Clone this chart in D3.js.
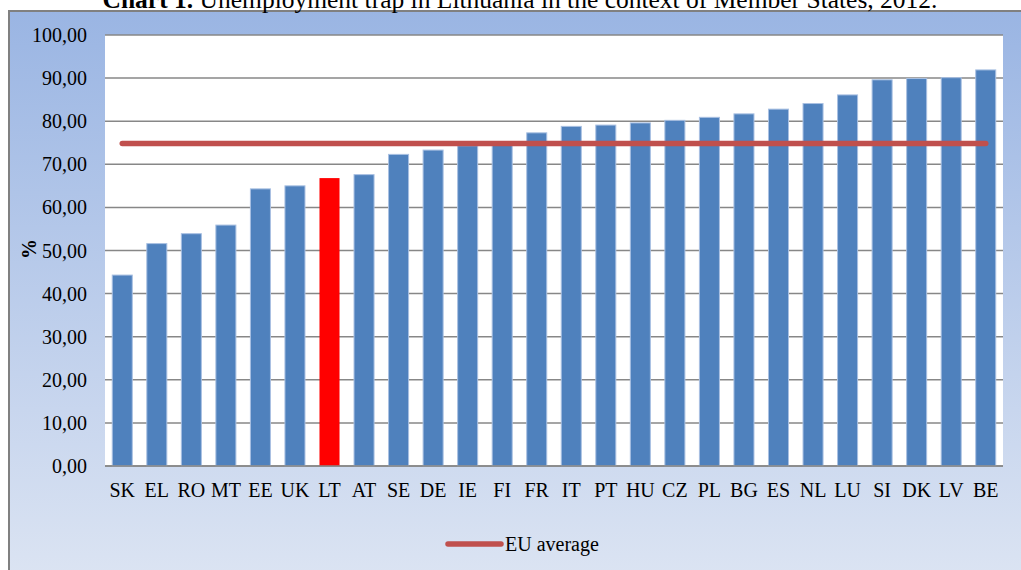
<!DOCTYPE html>
<html>
<head>
<meta charset="utf-8">
<script src="https://cdn.jsdelivr.net/npm/d3@7"></script>
<style>
  body { margin: 0; background: #fff; }
  svg text { font-family: "Liberation Serif", "Times New Roman", serif; fill: #000; }
</style>
</head>
<body>
<div class="chart"></div>
<script>
var countries = ["SK","EL","RO","MT","EE","UK","LT","AT","SE","DE","IE","FI","FR","IT","PT","HU","CZ","PL","BG","ES","NL","LU","SI","DK","LV","BE"];
var values = [44.3,51.6,53.9,55.9,64.3,65.0,66.8,67.6,72.3,73.3,74.3,74.4,77.3,78.8,79.1,79.6,80.2,80.9,81.7,82.8,84.1,86.1,89.6,89.9,90.1,91.9];
var euAverage = 74.8;
var yTicks = [0,10,20,30,40,50,60,70,80,90,100];
var highlight = "LT";

var width = 1021, height = 570;
var svg = d3.select(".chart").append("svg")
    .attr("width", width)
    .attr("height", height);

// background gradient of the chart area
var grad = svg.append("defs").append("linearGradient")
    .attr("id", "bg").attr("x1", 0).attr("y1", 0).attr("x2", 0).attr("y2", 1);
grad.append("stop").attr("offset", "0%").attr("stop-color", "#9ab5e3");
grad.append("stop").attr("offset", "100%").attr("stop-color", "#dde5f3");

svg.append("rect")
    .attr("x", 9).attr("y", 11)
    .attr("width", 1030).attr("height", 580)
    .attr("fill", "url(#bg)")
    .attr("stroke", "#808080")
    .attr("stroke-width", 2);

// title (partly cut off at the top, as in the source)
var title = svg.append("text")
    .attr("x", 520).attr("y", 8)
    .attr("text-anchor", "middle")
    .style("font-size", "25.5px");
title.append("tspan").style("font-weight", "bold").text("Chart 1.");
title.append("tspan").text(" Unemployment trap in Lithuania in the context of Member States, 2012.");

var plot = {left: 105, right: 1003, top: 35, bottom: 466};

svg.append("rect")
    .attr("x", plot.left).attr("y", plot.top)
    .attr("width", plot.right - plot.left).attr("height", plot.bottom - plot.top)
    .attr("fill", "#fff");

var x = d3.scaleBand()
    .domain(countries)
    .range([plot.left, plot.right])
    .paddingInner(0.42)
    .paddingOuter(0.21);

var y = d3.scaleLinear()
    .domain([0, 100])
    .range([plot.bottom, plot.top]);

// gridlines
svg.append("g").selectAll("line")
    .data(yTicks)
    .enter().append("line")
      .attr("x1", plot.left).attr("x2", plot.right)
      .attr("y1", function(d) { return y(d); })
      .attr("y2", function(d) { return y(d); })
      .attr("stroke", "#878787")
      .attr("stroke-width", 1.5);

// y axis labels
svg.append("g").selectAll("text")
    .data(yTicks)
    .enter().append("text")
      .attr("x", 87)
      .attr("y", function(d) { return y(d) + 7; })
      .attr("text-anchor", "end")
      .style("font-size", "20px")
      .text(function(d) { return d3.format(".2f")(d).replace(".", ","); });

svg.append("text")
    .attr("transform", "translate(36,249) rotate(-90)")
    .attr("text-anchor", "middle")
    .style("font-size", "20px")
    .style("font-weight", "bold")
    .text("%");

// bars
svg.append("g").selectAll("rect")
    .data(countries)
    .enter().append("rect")
      .attr("x", function(d) { return x(d); })
      .attr("y", function(d, i) { return y(values[i]); })
      .attr("width", x.bandwidth())
      .attr("height", function(d, i) { return y(0) - y(values[i]); })
      .attr("fill", function(d) { return d == highlight ? "#ff0000" : "#4f81bd"; })
      .attr("stroke", function(d) { return d == highlight ? "none" : "#a9c0e2"; })
      .attr("stroke-width", 1);

// x axis line
svg.append("line")
    .attr("x1", plot.left).attr("x2", plot.right)
    .attr("y1", y(0)).attr("y2", y(0))
    .attr("stroke", "#878787")
    .attr("stroke-width", 1.5);

// x labels
svg.append("g").selectAll("text")
    .data(countries)
    .enter().append("text")
      .attr("x", function(d) { return x(d) + x.bandwidth() / 2; })
      .attr("y", 497)
      .attr("text-anchor", "middle")
      .style("font-size", "20px")
      .text(function(d) { return d; });

// EU average line
var line = d3.line()
    .x(function(d) { return x(d) + x.bandwidth() / 2; })
    .y(function() { return y(euAverage); });

svg.append("path")
    .datum(countries)
    .attr("d", line)
    .attr("fill", "none")
    .attr("stroke", "#c0504d")
    .attr("stroke-width", 5.5)
    .attr("stroke-linecap", "round");

// legend
svg.append("line")
    .attr("x1", 448).attr("x2", 501)
    .attr("y1", 544).attr("y2", 544)
    .attr("stroke", "#c0504d")
    .attr("stroke-width", 5.5)
    .attr("stroke-linecap", "round");

svg.append("text")
    .attr("x", 505).attr("y", 551)
    .style("font-size", "20px")
    .text("EU average");
</script>
</body>
</html>
